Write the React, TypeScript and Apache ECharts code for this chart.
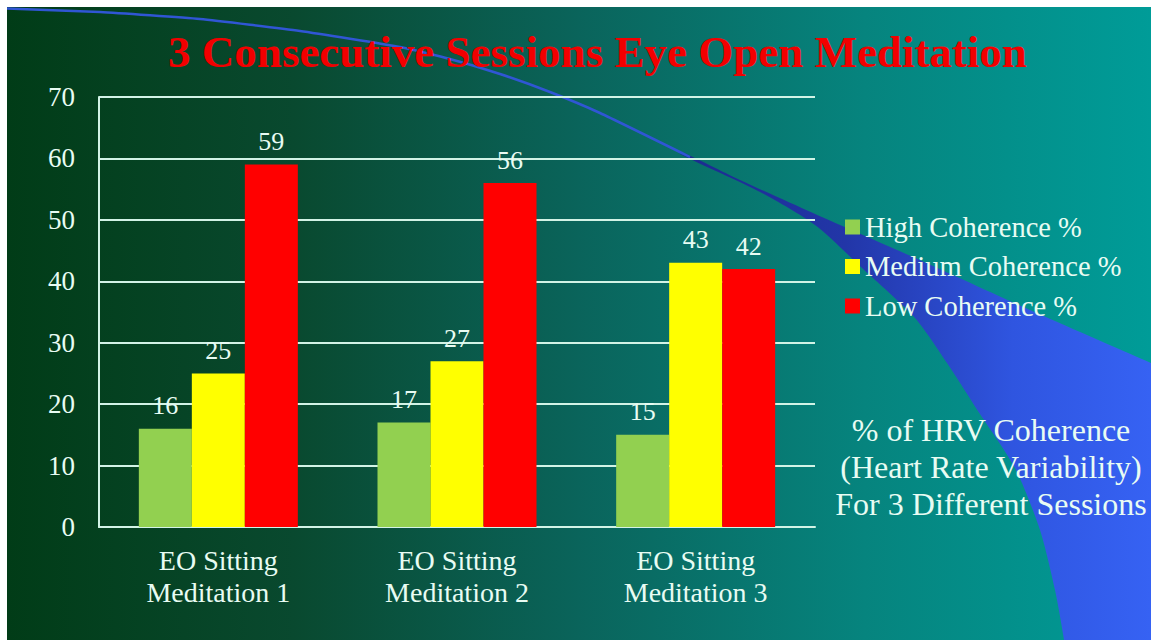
import React, { useEffect, useRef } from "react";
import * as echarts from "echarts";

const categories = ["EO Sitting\nMeditation 1", "EO Sitting\nMeditation 2", "EO Sitting\nMeditation 3"];
const highCoherence = [16, 17, 15];
const mediumCoherence = [25, 27, 43];
const lowCoherence = [59, 56, 42];
const seriesNames = ["High Coherence %", "Medium Coherence %", "Low Coherence %"];
const titleText = "3 Consecutive Sessions Eye Open Meditation";
const noteText = "% of HRV Coherence\n(Heart Rate Variability)\nFor 3 Different Sessions";

const OFF = 7;
const SERIF = "'Liberation Serif', 'Times New Roman', Times, serif";
const TXT = "#e8fcf3";
const LINE = "#d2f3e6";

// decorative background swoosh (page coordinates)
const swooshLine = [
  [-10, 8], [100, 12], [200, 19], [300, 31], [400, 47], [450, 59], [500, 74],
  [550, 92], [600, 113], [690, 157],
];
const swooshBand = [
  [680, 151], [740, 180], [813, 213], [913, 257], [1030, 310], [1151, 363], [1220, 394],
  [1220, 700], [1072, 700], [1064, 640], [1055, 590], [1040, 530], [1015, 468],
  [980, 414], [947, 363], [915, 318], [862, 268], [815, 225], [760, 192], [680, 154],
];
const toChart = (pts: number[][]) => pts.map((p) => [p[0] - OFF, p[1] - OFF]);

export default function App() {
  const ref = useRef<HTMLDivElement>(null);
  useEffect(() => {
    document.body.style.margin = "0";
    const chart = echarts.init(ref.current!, null, { renderer: "svg" });
    const barLabel = {
      show: true,
      position: "top",
      distance: 10,
      color: TXT,
      fontFamily: SERIF,
      fontSize: 26,
    };
    chart.setOption({
      animation: false,
      textStyle: { fontFamily: SERIF },
      title: {
        text: titleText,
        left: 585.5,
        top: 17,
        textAlign: "center",
        textStyle: {
          color: "#f20000",
          fontFamily: SERIF,
          fontWeight: "bold",
          fontSize: 45,
          lineHeight: 45,
        },
      },
      graphic: [
        {
          type: "rect",
          z: -100,
          silent: true,
          shape: { x: 0, y: 0, width: 1144, height: 633 },
          style: {
            fill: {
              type: "linear",
              x: 0, y: 0, x2: 1, y2: 0,
              colorStops: [
                { offset: 0, color: "#013c17" },
                { offset: 0.25, color: "#09492f" },
                { offset: 0.5, color: "#0a645b" },
                { offset: 0.75, color: "#06847e" },
                { offset: 1, color: "#009c98" },
              ],
            },
          },
        },
        {
          type: "polygon",
          z: -90,
          silent: true,
          shape: { points: toChart(swooshBand), smooth: 0.25 },
          style: {
            fill: {
              type: "linear",
              x: 0, y: 0, x2: 1, y2: 0,
              colorStops: [
                { offset: 0, color: "#1b2b8e" },
                { offset: 0.3, color: "#2236a8" },
                { offset: 0.6, color: "#2f55e0" },
                { offset: 1, color: "#3a6aff" },
              ],
            },
          },
        },
        {
          type: "polyline",
          z: -89,
          silent: true,
          shape: { points: toChart(swooshLine), smooth: 0.15 },
          style: { stroke: "#3056d4", lineWidth: 2.5, fill: "none" },
        },
        {
          type: "text",
          z: 10,
          silent: true,
          x: 991 - OFF,
          y: 467 - OFF,
          style: {
            text: noteText,
            fill: TXT,
            font: "32px 'Liberation Serif', serif",
            lineHeight: 37,
            textAlign: "center",
            textVerticalAlign: "middle",
          },
        },
      ],
      legend: {
        orient: "vertical",
        left: 845 - OFF,
        top: 212 - OFF,
        padding: 0,
        icon: "rect",
        itemWidth: 15,
        itemHeight: 15,
        itemGap: 9.5,
        itemTextGap: 7,
        textStyle: { color: TXT, fontFamily: SERIF, fontSize: 28.5, lineHeight: 30 },
        data: seriesNames,
      },
      grid: { left: 99 - OFF, top: 97 - OFF, width: 716, height: 430 },
      xAxis: {
        type: "category",
        data: categories,
        axisLine: { show: true, lineStyle: { color: LINE, width: 2 } },
        axisTick: { show: false },
        axisLabel: {
          color: TXT,
          fontFamily: SERIF,
          fontSize: 28,
          lineHeight: 32,
          margin: 17,
        },
      },
      yAxis: {
        type: "value",
        min: 0,
        max: 70,
        interval: 10,
        axisLine: { show: true, lineStyle: { color: LINE, width: 2 } },
        axisTick: { show: false },
        splitLine: { show: true, lineStyle: { color: LINE, width: 2 } },
        axisLabel: { color: TXT, fontFamily: SERIF, fontSize: 27, margin: 24 },
      },
      series: [
        {
          name: seriesNames[0],
          type: "bar",
          data: highCoherence,
          barWidth: 53,
          barGap: "0%",
          itemStyle: { color: "#92d050" },
          label: barLabel,
        },
        {
          name: seriesNames[1],
          type: "bar",
          data: mediumCoherence,
          barWidth: 53,
          barGap: "0%",
          itemStyle: { color: "#ffff00" },
          label: barLabel,
        },
        {
          name: seriesNames[2],
          type: "bar",
          data: lowCoherence,
          barWidth: 53,
          barGap: "0%",
          itemStyle: { color: "#ff0000" },
          label: barLabel,
        },
      ],
    });
    return () => chart.dispose();
  }, []);
  return (
    <div style={{ width: 1151, height: 640, background: "#ffffff", position: "relative", overflow: "hidden" }}>
      <div ref={ref} style={{ position: "absolute", left: OFF, top: OFF, width: 1151 - OFF, height: 640 - OFF }} />
    </div>
  );
}
